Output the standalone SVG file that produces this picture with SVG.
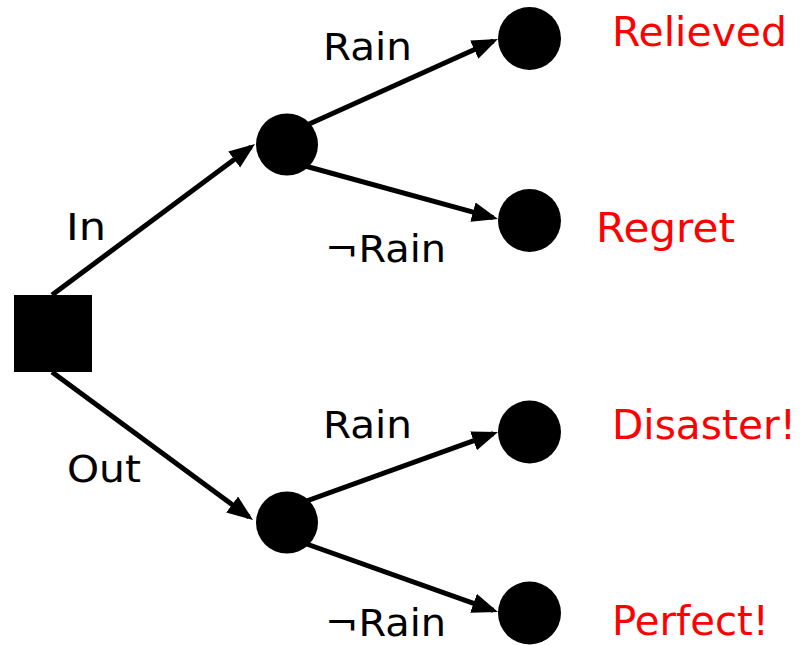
<svg xmlns="http://www.w3.org/2000/svg" width="808" height="645" viewBox="0 0 808 645">
<style>
.edge{stroke:#000;stroke-width:5;fill:none;marker-end:url(#arr)}
.lbl{font-family:"DejaVu Sans","Verdana",sans-serif;font-size:37px;fill:#000}
.out{font-family:"DejaVu Sans","Verdana",sans-serif;font-size:41px;fill:#ff0000}
.chance{fill:#000}
</style>
<defs>
<marker id="arr" markerUnits="userSpaceOnUse" markerWidth="28" markerHeight="22" refX="21" refY="10" orient="auto">
<path d="M0,0 L26,10 L0,20 z" fill="#000"/>
</marker>
</defs>
<rect width="808" height="645" fill="#fff"/>
<g id="connectors">
<line class="edge" x1="52" y1="295" x2="251" y2="147"/>
<line class="edge" x1="52" y1="372" x2="249" y2="517"/>
<line class="edge" x1="287" y1="134" x2="493.4" y2="41"/>
<line class="edge" x1="287" y1="161" x2="493.2" y2="217.7"/>
<line class="edge" x1="287" y1="508" x2="493.3" y2="433.7"/>
<line class="edge" x1="287" y1="537" x2="493.3" y2="610.3"/>
<text class="lbl" x="66" y="240" textLength="40" lengthAdjust="spacingAndGlyphs">In</text>
<text class="lbl" x="67" y="482" textLength="74" lengthAdjust="spacingAndGlyphs">Out</text>
<text class="lbl" x="323" y="60" textLength="89" lengthAdjust="spacingAndGlyphs">Rain</text>
<text class="lbl" x="325" y="262" textLength="121" lengthAdjust="spacingAndGlyphs">¬Rain</text>
<text class="lbl" x="323" y="438" textLength="89" lengthAdjust="spacingAndGlyphs">Rain</text>
<text class="lbl" x="325" y="636" textLength="121" lengthAdjust="spacingAndGlyphs">¬Rain</text>
</g>
<g id="decision"><rect x="14" y="295" width="78" height="77" fill="#000"/></g>
<g id="chance-in"><circle class="chance" cx="287" cy="144.5" r="31"/></g>
<g id="chance-out"><circle class="chance" cx="287" cy="522.5" r="31"/></g>
<g id="relieved"><circle class="chance" cx="529.5" cy="38.5" r="31.5"/><text class="out" x="612" y="46" textLength="175" lengthAdjust="spacingAndGlyphs">Relieved</text></g>
<g id="regret"><circle class="chance" cx="529.5" cy="220.5" r="31.5"/><text class="out" x="596" y="242" textLength="139" lengthAdjust="spacingAndGlyphs">Regret</text></g>
<g id="disaster"><circle class="chance" cx="529.5" cy="432" r="31.5"/><text class="out" x="612" y="439" textLength="184" lengthAdjust="spacingAndGlyphs">Disaster!</text></g>
<g id="perfect"><circle class="chance" cx="529.5" cy="613" r="31.5"/><text class="out" x="612" y="635" textLength="157" lengthAdjust="spacingAndGlyphs">Perfect!</text></g>
</svg>
